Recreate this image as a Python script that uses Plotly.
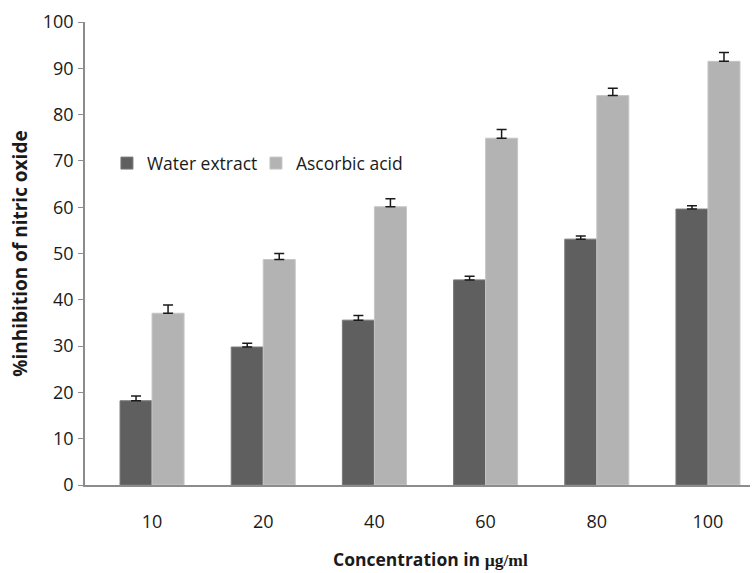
import plotly.graph_objects as go

# Concentration levels (µg/ml) and % nitric oxide inhibition
concentrations = ["10", "20", "40", "60", "80", "100"]
water_extract = [18.2, 29.8, 35.6, 44.3, 53.1, 59.6]
water_extract_err = [1.0, 0.8, 1.0, 0.8, 0.7, 0.7]
ascorbic_acid = [37.1, 48.7, 60.1, 74.9, 84.1, 91.5]
ascorbic_acid_err = [1.8, 1.3, 1.7, 1.9, 1.6, 1.9]
y_ticks = [0, 10, 20, 30, 40, 50, 60, 70, 80, 90, 100]

font_family = "'Open Sans', Lato, sans-serif"

fig = go.Figure()
fig.add_trace(go.Bar(
    name="Water extract",
    x=concentrations,
    y=water_extract,
    marker=dict(color="#5f5f5f", line=dict(color="#7a7a7a", width=1)),
    error_y=dict(type="data", array=water_extract_err, symmetric=False,
                 arrayminus=[0] * len(water_extract_err),
                 color="#1a1a1a", thickness=1.5, width=5),
))
fig.add_trace(go.Bar(
    name="Ascorbic acid",
    x=concentrations,
    y=ascorbic_acid,
    marker=dict(color="#b3b3b3", line=dict(color="#c6c6c6", width=1)),
    error_y=dict(type="data", array=ascorbic_acid_err, symmetric=False,
                 arrayminus=[0] * len(ascorbic_acid_err),
                 color="#1a1a1a", thickness=1.5, width=5),
))

fig.update_layout(
    width=753,
    height=573,
    margin=dict(l=85, r=3, t=22, b=88),
    paper_bgcolor="white",
    plot_bgcolor="white",
    barmode="group",
    bargap=0.424,
    bargroupgap=0.0,
    font=dict(family=font_family, size=18, color="#1a1a1a"),
    showlegend=True,
    legend=dict(
        orientation="h",
        x=0.033, xanchor="left",
        y=0.695, yanchor="middle",
        bgcolor="rgba(0,0,0,0)",
        font=dict(size=17.5, family=font_family, color="#1a1a1a"),
        itemwidth=30,
        entrywidth=104,
        traceorder="normal",
    ),
    xaxis=dict(
        range=[-0.603, 5.378],
        showline=True, linecolor="#8c8c8c", linewidth=1.5,
        ticks="", showgrid=False,
        ticklabelstandoff=20,
        tickfont=dict(size=18),
    ),
    yaxis=dict(
        range=[0, 100],
        tickvals=y_ticks,
        showline=True, linecolor="#8c8c8c", linewidth=1.5,
        ticks="outside", ticklen=5, tickcolor="#8c8c8c",
        ticklabelstandoff=1,
        showgrid=False, zeroline=False,
        tickfont=dict(size=18),
        title=dict(text="<b>%inhibition of nitric oxide</b>", font=dict(size=19), standoff=10),
    ),
    annotations=[dict(
        text="<b>Concentration in </b><span style=\"font-family:'Liberation Serif', serif\"><b>µg/ml</b></span>",
        xref="paper", yref="paper",
        x=(430 - 85) / 665, y=-(559 - 485) / 463,
        xanchor="center", yanchor="middle",
        showarrow=False,
        font=dict(size=17.5),
    )],
)

fig.write_html("out.html")
